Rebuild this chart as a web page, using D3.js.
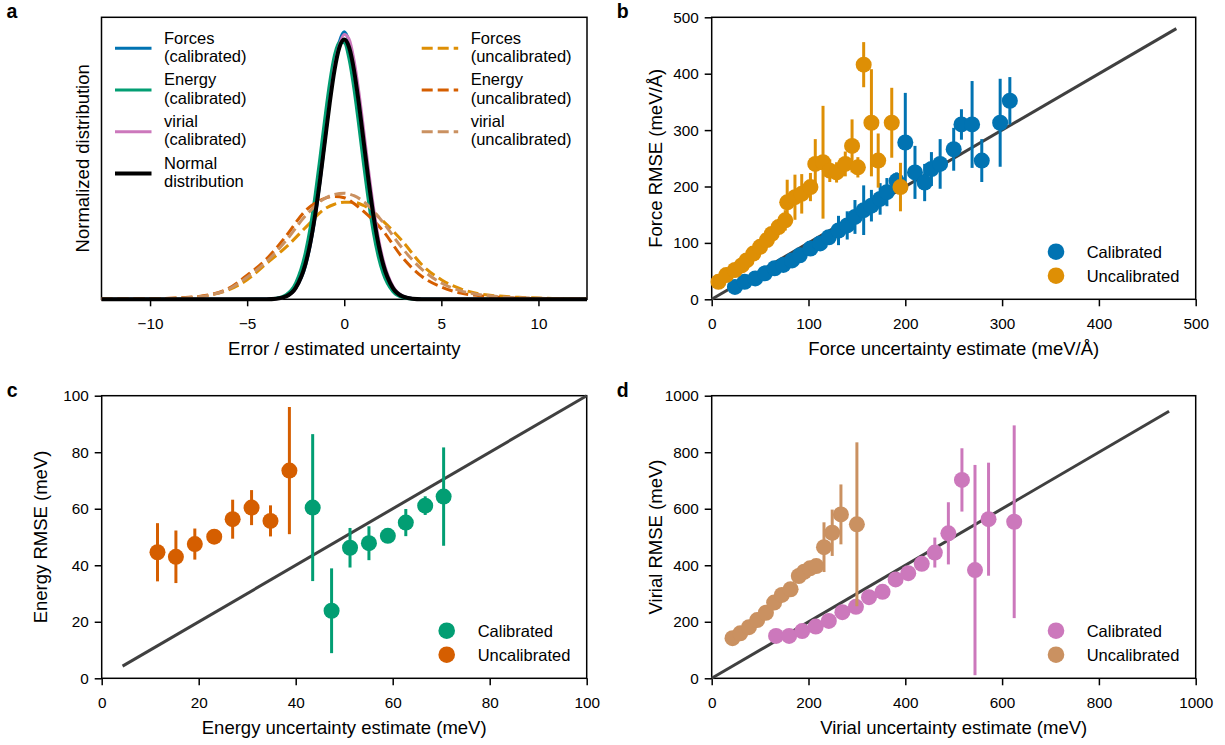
<!DOCTYPE html>
<html lang="en">
<head>
<meta charset="utf-8">
<title>Uncertainty calibration</title>
<script src="https://cdn.jsdelivr.net/npm/d3@7"></script>
<style>
  body { margin: 0; background: #fff; }
  text { font-family: "Liberation Sans", Arial, Helvetica, sans-serif; fill: #000; }
</style>
</head>
<body>
<svg id="svg" width="1225" height="745"></svg>
<script>
// ---- panel a: error distributions ----
var xNarrow = [-12.5, -6, -4, -3.5, -3, -2.5, -2, -1.75, -1.5, -1.25, -1, -0.75, -0.5, -0.25, 0,
               0.25, 0.5, 0.75, 1, 1.25, 1.5, 1.75, 2, 2.5, 3, 3.5, 4, 6, 12.5];
var normalDist = [0, 0, 0.0001, 0.0009, 0.0044, 0.0175, 0.054, 0.0863, 0.1295, 0.1826, 0.242, 0.3011, 0.3521, 0.3867, 0.3989,
                  0.3867, 0.3521, 0.3011, 0.242, 0.1826, 0.1295, 0.0863, 0.054, 0.0175, 0.0044, 0.0009, 0.0001, 0, 0];
var forcesCal = [0, 0.0001, 0.0004, 0.0012, 0.0048, 0.017, 0.051, 0.083, 0.126, 0.18, 0.243, 0.305, 0.36, 0.396, 0.411,
                 0.396, 0.36, 0.305, 0.243, 0.18, 0.126, 0.083, 0.051, 0.017, 0.0048, 0.0012, 0.0004, 0.0001, 0];
var energyCal = [0, 0, 0.0002, 0.0015, 0.0069, 0.0252, 0.0721, 0.1109, 0.1604, 0.2179, 0.278, 0.3332, 0.3752, 0.395, 0.394,
                 0.3683, 0.323, 0.2661, 0.2059, 0.1497, 0.1023, 0.0656, 0.0396, 0.0119, 0.0028, 0.0005, 0.0001, 0, 0];
var virialCal = [0, 0, 0.0001, 0.0008, 0.0041, 0.0168, 0.0527, 0.0845, 0.1275, 0.1818, 0.2425, 0.3038, 0.3575, 0.3903, 0.4064,
                 0.3993, 0.3676, 0.3186, 0.2598, 0.1985, 0.1423, 0.0957, 0.0608, 0.0203, 0.0052, 0.0011, 0.0002, 0, 0];

var xWide = [-12.5, -11, -10, -9, -8, -7, -6, -5, -4, -3, -2, -1, -0.5, 0, 0.5, 1, 2, 3, 4, 5, 6, 7, 8, 9, 10, 11, 12.5];
var forcesUncal = [0.0003, 0.0005, 0.0008, 0.0013, 0.0025, 0.006, 0.014, 0.030, 0.055, 0.080, 0.110, 0.139, 0.146, 0.149,
                   0.149, 0.144, 0.120, 0.089, 0.053, 0.030, 0.016, 0.008, 0.005, 0.003, 0.002, 0.001, 0.0005];
var energyUncal = [0.0003, 0.0006, 0.001, 0.0015, 0.003, 0.0065, 0.016, 0.037, 0.062, 0.097, 0.136, 0.155, 0.158, 0.156,
                   0.147, 0.135, 0.105, 0.064, 0.035, 0.019, 0.0095, 0.0055, 0.003, 0.0018, 0.0012, 0.0007, 0.0003];
var virialUncal = [0.0003, 0.0005, 0.0009, 0.0014, 0.0028, 0.006, 0.015, 0.034, 0.058, 0.090, 0.128, 0.155, 0.161, 0.163,
                   0.159, 0.150, 0.118, 0.078, 0.046, 0.025, 0.013, 0.007, 0.004, 0.0025, 0.0015, 0.0008, 0.0004];
var ticksA = [-10, -5, 0, 5, 10];

// ---- panel b: forces ----
var forceCalX = [24, 34, 45, 55, 65, 74, 83, 91, 102, 112, 121, 131, 140, 148, 157, 165, 174, 181, 191, 200, 210, 220, 227, 236, 250, 258, 269, 279, 298, 308];
var forceCalY = [22, 31, 37, 46, 55, 61, 69, 78, 90, 99, 110, 122, 131, 146, 158, 166, 178, 190, 210, 278, 225, 207, 231, 240, 266, 310, 310, 246, 313, 352];
var forceCalErr = [1, 2, 2, 3, 3, 3, 4, 4, 5, 6, 8, 26, 25, 30, 44, 28, 28, 25, 15, 88, 47, 33, 30, 44, 38, 27, 77, 38, 78, 42];
var forceUncX = [7, 15, 24, 31, 36, 43, 50, 57, 62, 69, 76, 78, 86, 93, 102, 107, 115, 122, 129, 138, 145, 151, 157, 165, 172, 186, 195];
var forceUncY = [31, 43, 52, 60, 69, 81, 93, 105, 116, 128, 140, 172, 181, 187, 199, 240, 243, 228, 225, 240, 272, 234, 416, 313, 246, 313, 199];
var forceUncErr = [2, 3, 3, 4, 5, 6, 8, 10, 12, 14, 18, 40, 40, 35, 25, 44, 100, 20, 18, 22, 47, 18, 40, 95, 48, 62, 43];
var diagB = [0, 480];
var ticksB = [0, 100, 200, 300, 400, 500];

// ---- panel c: energy ----
var energyCalX = [43.5, 47.4, 51.2, 55.1, 59.0, 62.7, 66.7, 70.5];
var energyCalY = [60.4, 23.9, 46.2, 47.8, 50.4, 55.1, 61.1, 64.3];
var energyCalErr = [26, 15, 7, 6, 0.5, 4.8, 3.3, 17.4];
var energyUncX = [11.5, 15.3, 19.2, 23.2, 27.0, 30.9, 34.8, 38.7];
var energyUncY = [44.6, 43.0, 47.5, 50.1, 56.3, 60.4, 55.7, 73.5];
var energyUncErr = [10.3, 9.3, 5.5, 0.5, 6.9, 6.2, 5.5, 22.5];
var diagC = [4.3, 100];
var ticksC = [0, 20, 40, 60, 80, 100];

// ---- panel d: virial ----
var virialCalX = [133, 160, 187, 215, 242, 270, 298, 325, 353, 380, 406, 434, 461, 489, 517, 544, 572, 625];
var virialCalY = [150, 150, 167, 183, 203, 234, 253, 287, 306, 350, 372, 405, 445, 513, 702, 383, 563, 554];
var virialCalErr = [3, 3, 4, 4, 5, 6, 7, 8, 8, 10, 25, 12, 53, 110, 112, 372, 200, 341];
var virialUncX = [43, 59, 77, 94, 112, 129, 145, 163, 180, 191, 203, 216, 232, 249, 267, 300];
var virialUncY = [142, 159, 181, 206, 232, 268, 295, 315, 362, 377, 389, 397, 464, 515, 580, 545];
var virialUncErr = [2, 3, 3, 4, 5, 6, 8, 10, 12, 14, 15, 18, 88, 82, 106, 290];
var diagD = [0, 945];
var ticksD = [0, 200, 400, 600, 800, 1000];

var colors = {blue: "#0173b2", orange: "#de8f05", green: "#029e73", red: "#d55e00", pink: "#cc78bc", brown: "#ca9161"};

var svg = d3.select("#svg");

// plain numbers, with a real minus sign
var tickFmt = function(d) { return d < 0 ? "\u2212" + Math.abs(d) : String(d); };

// draws frame, axes and labels; returns the two scales
function panel(box, xDomain, yDomain, xTicks, yTicks, xLabel, yLabel, letter, yLabelX) {
    var x = d3.scaleLinear().domain(xDomain).range([box.left, box.right]);
    var y = d3.scaleLinear().domain(yDomain).range([box.bottom, box.top]);

    var gx = svg.append("g").attr("transform", "translate(0," + box.bottom + ")")
        .call(d3.axisBottom(x).tickValues(xTicks).tickSize(7).tickSizeOuter(0).tickPadding(12).tickFormat(tickFmt));
    gx.select(".domain").remove();
    gx.selectAll("line").attr("stroke", "#000").attr("stroke-width", 1.5);
    gx.selectAll("text").attr("font-size", 15.3).attr("font-family", null);

    if (yTicks) {
        var gy = svg.append("g").attr("transform", "translate(" + box.left + ",0)")
            .call(d3.axisLeft(y).tickValues(yTicks).tickSize(7).tickSizeOuter(0).tickPadding(6).tickFormat(tickFmt));
        gy.select(".domain").remove();
        gy.selectAll("line").attr("stroke", "#000").attr("stroke-width", 1.5);
        gy.selectAll("text").attr("font-size", 15.3).attr("font-family", null);
    }

    svg.append("rect").attr("x", box.left).attr("y", box.top)
        .attr("width", box.right - box.left).attr("height", box.bottom - box.top)
        .attr("fill", "none").attr("stroke", "#000").attr("stroke-width", 1.5);

    svg.append("text").attr("x", (box.left + box.right) / 2).attr("y", box.bottom + 56)
        .attr("text-anchor", "middle").attr("font-size", 18.5).text(xLabel);
    svg.append("text")
        .attr("transform", "translate(" + yLabelX + "," + ((box.top + box.bottom) / 2) + ") rotate(-90)")
        .attr("text-anchor", "middle").attr("font-size", 18.5).text(yLabel);
    svg.append("text").attr("x", box.left - 95).attr("y", box.top + 1)
        .attr("font-size", 19.5).attr("font-weight", "bold").text(letter);
    return {x: x, y: y};
}

// ---------- panel a ----------
var boxA = {left: 101.5, right: 587, top: 17.3, bottom: 299.3};
var sa = panel(boxA, [-12.5, 12.5], [0, 0.433], ticksA, null,
               "Error / estimated uncertainty", "Normalized distribution", "a", 89);

var curvesA = [
    {xs: xNarrow, ys: forcesCal, color: colors.blue, dash: null, w: 3},
    {xs: xWide, ys: forcesUncal, color: colors.orange, dash: "11,5", w: 3},
    {xs: xNarrow, ys: energyCal, color: colors.green, dash: null, w: 3},
    {xs: xWide, ys: energyUncal, color: colors.red, dash: "11,5", w: 3},
    {xs: xNarrow, ys: virialCal, color: colors.pink, dash: null, w: 3},
    {xs: xWide, ys: virialUncal, color: colors.brown, dash: "11,5", w: 3},
    {xs: xNarrow, ys: normalDist, color: "#000", dash: null, w: 4}
];
var lineA = d3.line().x(function(d) { return sa.x(d[0]); }).y(function(d) { return sa.y(d[1]); })
    .curve(d3.curveMonotoneX);
curvesA.forEach(function(c) {
    svg.append("path").datum(d3.zip(c.xs, c.ys)).attr("d", lineA)
        .attr("fill", "none").attr("stroke", c.color).attr("stroke-width", c.w)
        .attr("stroke-dasharray", c.dash);
});

// legend of panel a, two columns
var legendA = [
    {col: 0, row: 0, lines: ["Forces", "(calibrated)"], color: colors.blue, dash: null, w: 3},
    {col: 0, row: 1, lines: ["Energy", "(calibrated)"], color: colors.green, dash: null, w: 3},
    {col: 0, row: 2, lines: ["virial", "(calibrated)"], color: colors.pink, dash: null, w: 3},
    {col: 0, row: 3, lines: ["Normal", "distribution"], color: "#000", dash: null, w: 4},
    {col: 1, row: 0, lines: ["Forces", "(uncalibrated)"], color: colors.orange, dash: "11,5", w: 3},
    {col: 1, row: 1, lines: ["Energy", "(uncalibrated)"], color: colors.red, dash: "11,5", w: 3},
    {col: 1, row: 2, lines: ["virial", "(uncalibrated)"], color: colors.brown, dash: "11,5", w: 3}
];
var colX = [115, 421.7];
legendA.forEach(function(e) {
    var ly = 48.3 + 41.7 * e.row;
    var lx = colX[e.col];
    svg.append("line").attr("x1", lx).attr("x2", lx + 36.5).attr("y1", ly).attr("y2", ly)
        .attr("stroke", e.color).attr("stroke-width", e.w).attr("stroke-dasharray", e.dash);
    svg.append("text").attr("x", lx + 49).attr("y", ly - 4.7).attr("font-size", 16.5).text(e.lines[0]);
    svg.append("text").attr("x", lx + 49).attr("y", ly + 13.6).attr("font-size", 16.5).text(e.lines[1]);
});

// ---------- scatter panels ----------
function scatter(s, xs, ys, errs, color) {
    var g = svg.append("g");
    g.selectAll("line").data(d3.range(xs.length)).enter().append("line")
        .attr("x1", function(i) { return s.x(xs[i]); })
        .attr("x2", function(i) { return s.x(xs[i]); })
        .attr("y1", function(i) { return s.y(ys[i] - errs[i]); })
        .attr("y2", function(i) { return s.y(ys[i] + errs[i]); })
        .attr("stroke", color).attr("stroke-width", 3);
    g.selectAll("circle").data(d3.range(xs.length)).enter().append("circle")
        .attr("cx", function(i) { return s.x(xs[i]); })
        .attr("cy", function(i) { return s.y(ys[i]); })
        .attr("r", 8).attr("fill", color);
}

function diagonal(s, ends) {
    svg.append("line").attr("x1", s.x(ends[0])).attr("y1", s.y(ends[0]))
        .attr("x2", s.x(ends[1])).attr("y2", s.y(ends[1]))
        .attr("stroke", "#404040").attr("stroke-width", 3);
}

function legend(mx, my, tx, items) {
    items.forEach(function(it, i) {
        svg.append("circle").attr("cx", mx).attr("cy", my + 24 * i).attr("r", 8.3).attr("fill", it[1]);
        svg.append("text").attr("x", tx).attr("y", my + 24 * i + 6).attr("font-size", 16.5).text(it[0]);
    });
}

// panel b
var boxB = {left: 711.7, right: 1195.7, top: 17.3, bottom: 299.3};
var sb = panel(boxB, [0, 500], [0, 500], ticksB, ticksB,
               "Force uncertainty estimate (meV/\u00c5)", "Force RMSE (meV/\u00c5)", "b", 662);
diagonal(sb, diagB);
scatter(sb, forceCalX, forceCalY, forceCalErr, colors.blue);
scatter(sb, forceUncX, forceUncY, forceUncErr, colors.orange);
legend(1056, 251.7, 1086.7, [["Calibrated", colors.blue], ["Uncalibrated", colors.orange]]);

// panel c
var boxC = {left: 101.7, right: 586.7, top: 395.7, bottom: 678.3};
var sc = panel(boxC, [0, 100], [0, 100], ticksC, ticksC,
               "Energy uncertainty estimate (meV)", "Energy RMSE (meV)", "c", 47);
diagonal(sc, diagC);
scatter(sc, energyCalX, energyCalY, energyCalErr, colors.green);
scatter(sc, energyUncX, energyUncY, energyUncErr, colors.red);
legend(446.7, 630.7, 477.7, [["Calibrated", colors.green], ["Uncalibrated", colors.red]]);

// panel d
var boxD = {left: 711.7, right: 1195.7, top: 395.7, bottom: 678.3};
var sd = panel(boxD, [0, 1000], [0, 1000], ticksD, ticksD,
               "Virial uncertainty estimate (meV)", "Virial RMSE (meV)", "d", 662);
diagonal(sd, diagD);
scatter(sd, virialCalX, virialCalY, virialCalErr, colors.pink);
scatter(sd, virialUncX, virialUncY, virialUncErr, colors.brown);
legend(1056, 630.7, 1086.7, [["Calibrated", colors.pink], ["Uncalibrated", colors.brown]]);
</script>
</body>
</html>
